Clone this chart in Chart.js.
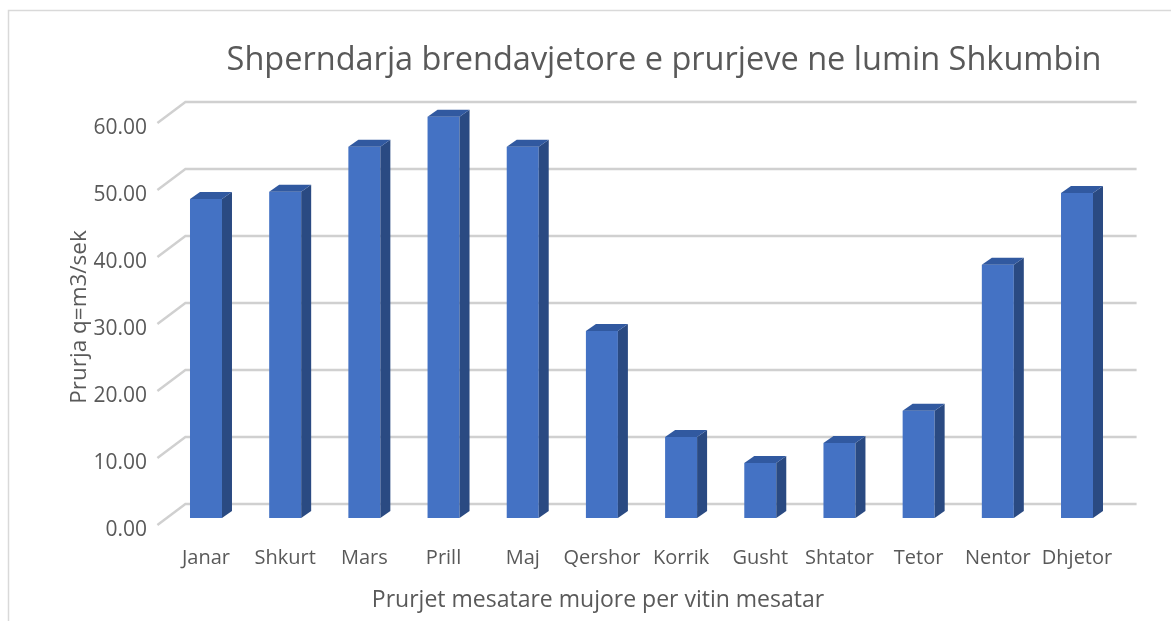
<!DOCTYPE html>
<html>
<head>
<meta charset="utf-8">
<script src="https://cdn.jsdelivr.net/npm/chart.js@4"></script>
<style>
  html, body { margin: 0; padding: 0; background: #fff; }
  #wrap { position: relative; width: 1171px; height: 621px; }
</style>
</head>
<body>
<div id="wrap"><canvas id="c" width="1171" height="621"></canvas></div>
<script>
const categories = ["Janar", "Shkurt", "Mars", "Prill", "Maj", "Qershor", "Korrik", "Gusht", "Shtator", "Tetor", "Nentor", "Dhjetor"];
const flowValues = [47.6, 48.7, 55.4, 59.9, 55.4, 27.9, 12.1, 8.2, 11.2, 16.0, 37.8, 48.5];
const yTicks = [0, 10, 20, 30, 40, 50, 60];
const chartTitle = "Shperndarja brendavjetore e prurjeve ne lumin Shkumbin";
const xTitle = "Prurjet mesatare mujore per vitin mesatar";
const yTitle = "Prurja q=m3/sek";

const DX = 10, DY = 7;
const FONT = "'Open Sans', 'Noto Sans', sans-serif";
const TEXT = '#595959';

const frame = {
  id: 'frame',
  beforeDraw(chart) {
    const ctx = chart.ctx;
    ctx.save();
    ctx.fillStyle = '#fff';
    ctx.fillRect(0, 0, chart.width, chart.height);
    ctx.strokeStyle = '#d9d9d9';
    ctx.lineWidth = 1.5;
    ctx.beginPath();
    ctx.moveTo(8.5, chart.height);
    ctx.lineTo(8.5, 10.5);
    ctx.lineTo(chart.width, 10.5);
    ctx.stroke();
    ctx.restore();
  },
  afterDraw(chart) {
    const ctx = chart.ctx;
    ctx.save();
    ctx.fillStyle = TEXT;
    ctx.textAlign = 'center';
    ctx.textBaseline = 'middle';
    ctx.font = "32.5px " + FONT;
    ctx.fillText(chartTitle, 664, 61);
    ctx.font = "23px " + FONT;
    ctx.fillText(xTitle, 598, 600);
    ctx.restore();
  }
};

const grid3d = {
  id: 'grid3d',
  beforeDatasetsDraw(chart) {
    const ctx = chart.ctx, y = chart.scales.y, area = chart.chartArea;
    const fx = area.left - 9, bx = fx + 28;
    const rx = area.right + 20;
    ctx.save();
    ctx.strokeStyle = '#d0d0d0';
    ctx.lineWidth = 2.4;
    yTicks.forEach(v => {
      const p = y.getPixelForValue(v);
      ctx.beginPath();
      ctx.moveTo(fx, p + 7);
      ctx.lineTo(bx, p - 14);
      ctx.lineTo(rx, p - 14);
      ctx.stroke();
    });
    ctx.restore();
  },
  afterDatasetsDraw(chart) {
    const ctx = chart.ctx;
    const meta = chart.getDatasetMeta(0);
    ctx.save();
    meta.data.forEach(bar => {
      const {x, y, base, width} = bar.getProps(['x', 'y', 'base', 'width'], true);
      const l = x - width / 2, r = x + width / 2;
      ctx.fillStyle = '#2a4a82';
      ctx.beginPath();
      ctx.moveTo(r, y);
      ctx.lineTo(r + DX, y - DY);
      ctx.lineTo(r + DX, base - DY);
      ctx.lineTo(r, base);
      ctx.closePath();
      ctx.fill();
      ctx.fillStyle = '#3159a0';
      ctx.beginPath();
      ctx.moveTo(l, y);
      ctx.lineTo(l + DX, y - DY);
      ctx.lineTo(r + DX, y - DY);
      ctx.lineTo(r, y);
      ctx.closePath();
      ctx.fill();
    });
    ctx.restore();
  }
};

new Chart(document.getElementById('c'), {
  type: 'bar',
  data: {
    labels: categories,
    datasets: [{
      data: flowValues,
      backgroundColor: '#4472c4',
      borderWidth: 0,
      barPercentage: 0.404,
      categoryPercentage: 1.0
    }]
  },
  options: {
    responsive: false,
    animation: false,
    devicePixelRatio: 1,
    layout: { padding: { left: 62.5, right: 54.4, top: 116, bottom: 5 } },
    plugins: {
      legend: { display: false },
      tooltip: { enabled: false },
      title: { display: false }
    },
    scales: {
      x: {
        grid: { display: false, drawTicks: false },
        border: { display: false },
        ticks: { color: TEXT, font: { family: FONT, size: 20 }, padding: 28, maxRotation: 0, autoSkip: false },
        title: { display: false },
        afterFit(s) { s.height = 98; }
      },
      y: {
        min: 0, max: 60,
        grid: { display: false, drawTicks: false },
        border: { display: false },
        ticks: {
          stepSize: 10, color: TEXT, font: { family: FONT, size: 21 }, padding: 19.4, labelOffset: 12,
          callback: v => v.toFixed(2)
        },
        title: { display: true, text: yTitle, color: TEXT, font: { family: FONT, size: 22.5 }, padding: { top: 4, bottom: 4 } },
        afterFit(s) { s.width = 103.9; }
      }
    }
  },
  plugins: [frame, grid3d]
});
</script>
</body>
</html>
